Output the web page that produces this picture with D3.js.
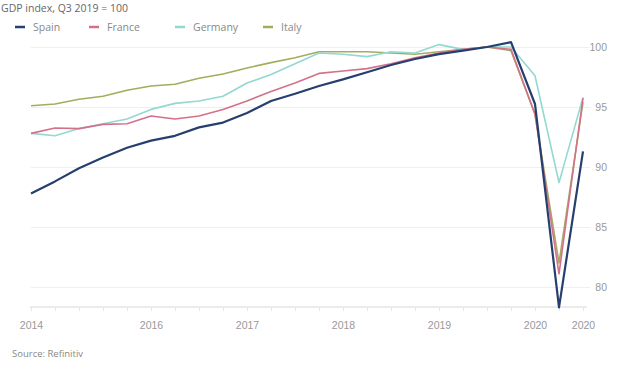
<!DOCTYPE html>
<html>
<head>
<meta charset="utf-8">
<script src="https://cdn.jsdelivr.net/npm/d3@7"></script>
<style>
  html, body { margin: 0; padding: 0; background: #fff; }
  svg { display: block; font-family: "Open Sans", "Noto Sans", sans-serif; }
</style>
</head>
<body>
<svg id="chart" width="622" height="365"></svg>
<script>
// Quarterly GDP, Q4 2014 – Q3 2020, indexed to Q3 2019 = 100
const quarters = ["2014Q4","2015Q1","2015Q2","2015Q3","2015Q4","2016Q1","2016Q2","2016Q3",
  "2016Q4","2017Q1","2017Q2","2017Q3","2017Q4","2018Q1","2018Q2","2018Q3",
  "2018Q4","2019Q1","2019Q2","2019Q3","2019Q4","2020Q1","2020Q2","2020Q3"];

const spain   = [87.8, 88.8, 89.9, 90.8, 91.6, 92.2, 92.6, 93.3, 93.7, 94.5, 95.5, 96.1,
                 96.75, 97.3, 97.9, 98.5, 99.0, 99.4, 99.7, 100.0, 100.4, 95.25, 78.3, 91.3];
const france  = [92.8, 93.25, 93.2, 93.55, 93.6, 94.25, 94.0, 94.25, 94.8, 95.5, 96.3, 97.0,
                 97.8, 98.0, 98.2, 98.6, 99.1, 99.5, 99.8, 100.0, 99.8, 94.4, 81.1, 95.75];
const germany = [92.8, 92.6, 93.2, 93.6, 94.0, 94.8, 95.3, 95.5, 95.9, 97.0, 97.7, 98.6,
                 99.5, 99.4, 99.2, 99.6, 99.5, 100.2, 99.8, 100.0, 100.0, 97.6, 88.7, 95.8];
const italy   = [95.1, 95.25, 95.65, 95.9, 96.4, 96.75, 96.9, 97.4, 97.75, 98.25, 98.7, 99.1,
                 99.6, 99.6, 99.6, 99.5, 99.4, 99.6, 99.8, 100.0, 99.7, 94.4, 82.0, 95.4];

const seriesNames  = ["Spain", "France", "Germany", "Italy"];
const seriesColors = ["#263f6e", "#d4718a", "#93d8d2", "#a3ad5e"];
const seriesValues = [spain, france, germany, italy];

const yTicks = [80, 85, 90, 95, 100];
const xTickIndex  = [0, 5, 9, 13, 17, 21, 23];
const xTickLabels = ["2014", "2016", "2017", "2018", "2019", "2020", "2020"];

const svg = d3.select("#chart");

const x = d3.scaleLinear().domain([0, quarters.length - 1]).range([31, 583]);
const y = d3.scaleLinear().domain([80, 100]).range([287, 47]);
const axisY = y(78.33);

// Title
svg.append("text")
  .attr("x", 1).attr("y", 12)
  .attr("font-size", 10.5).attr("fill", "#666")
  .text("GDP index, Q3 2019 = 100");

// Legend
const legendX = [15, 89, 175, 263];
seriesNames.forEach((name, i) => {
  const g = svg.append("g").attr("transform", `translate(${legendX[i]},27)`);
  g.append("line").attr("x1", 0).attr("x2", 10).attr("y1", 0).attr("y2", 0)
    .attr("stroke", seriesColors[i]).attr("stroke-width", 2.5);
  g.append("text").attr("x", 18).attr("y", 4)
    .attr("font-size", 10.5).attr("fill", "#888").text(name);
});

// Horizontal gridlines + right-side labels
const yAxis = d3.axisRight(y).tickValues(yTicks).tickSize(559).tickPadding(6)
  .tickFormat(d3.format("d"));
const gy = svg.append("g").attr("transform", "translate(31,0)").call(yAxis);
gy.select(".domain").remove();
gy.selectAll(".tick line").attr("stroke", "#efefef").attr("stroke-width", 1);
gy.selectAll(".tick text")
  .attr("fill", "#999").attr("font-size", 10.5)
  .attr("text-anchor", "end").attr("x", 576);

// Baseline with quarter ticks
svg.append("line")
  .attr("x1", 30).attr("x2", 587).attr("y1", axisY).attr("y2", axisY)
  .attr("stroke", "#d9d9d9").attr("stroke-width", 1);
const xAxis = d3.axisBottom(x).tickValues(d3.range(quarters.length)).tickSize(4).tickFormat("");
const gx = svg.append("g").attr("transform", `translate(0,${axisY})`).call(xAxis);
gx.select(".domain").remove();
gx.selectAll(".tick line").attr("stroke", "#e6e6e6");

// Year labels
const xLab = d3.axisBottom(x).tickValues(xTickIndex).tickSize(0).tickPadding(15)
  .tickFormat((d, i) => xTickLabels[i]);
const gl = svg.append("g").attr("transform", `translate(0,${axisY})`).call(xLab);
gl.select(".domain").remove();
gl.selectAll(".tick text").attr("fill", "#999").attr("font-size", 10.5);

// Series lines (Italy first so Spain sits on top)
const line = d3.line().x((d, i) => x(i)).y(d => y(d));
[3, 2, 1, 0].forEach(i => {
  svg.append("path")
    .datum(seriesValues[i])
    .attr("fill", "none")
    .attr("stroke", seriesColors[i])
    .attr("stroke-width", i === 0 ? 2.2 : 1.6)
    .attr("stroke-linejoin", "round")
    .attr("d", line);
});

// Source
svg.append("text")
  .attr("x", 12).attr("y", 357)
  .attr("font-size", 9.5).attr("fill", "#888")
  .text("Source: Refinitiv");
</script>
</body>
</html>
